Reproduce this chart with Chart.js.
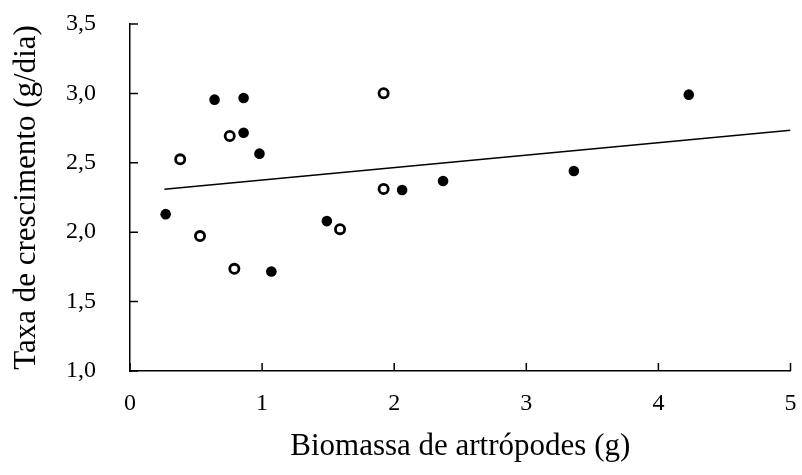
<!DOCTYPE html>
<html>
<head>
<meta charset="utf-8">
<script src="https://cdn.jsdelivr.net/npm/chart.js@4.4.1/dist/chart.umd.min.js"></script>
<style>
html,body{margin:0;padding:0;background:#fff;}
#wrap{width:802px;height:475px;}
</style>
</head>
<body>
<div id="wrap"><canvas id="c" width="802" height="475"></canvas></div>
<script>
const filledX = [0.27, 0.64, 0.86, 0.86, 0.98, 1.07, 1.49, 2.06, 2.37, 3.36, 4.23];
const filledY = [2.13, 2.955, 2.967, 2.717, 2.566, 1.717, 2.08, 2.304, 2.369, 2.441, 2.991];
const openX = [0.38, 0.53, 0.755, 0.79, 1.59, 1.92, 1.92];
const openY = [2.525, 1.972, 2.693, 1.736, 2.022, 3.001, 2.311];
const trendX = [0.26, 5];
const trendY = [2.31, 2.734];
const xTicks = [0, 1, 2, 3, 4, 5];
const yTicks = [1.0, 1.5, 2.0, 2.5, 3.0, 3.5];
const xTitle = 'Biomassa de artrópodes (g)';
const yTitle = 'Taxa de crescimento (g/dia)';

const pts = (xs, ys) => xs.map((x, i) => ({x: x, y: ys[i]}));
const FONT = "'Liberation Serif', 'Times New Roman', serif";

const innerTicks = {
  id: 'innerTicks',
  afterDraw(chart) {
    const {ctx, chartArea} = chart;
    const xs = chart.scales.x, ys = chart.scales.y;
    ctx.save();
    ctx.strokeStyle = '#000';
    ctx.lineWidth = 1.5;
    ctx.beginPath();
    xTicks.forEach(v => {
      const p = xs.getPixelForValue(v);
      ctx.moveTo(p, chartArea.bottom);
      ctx.lineTo(p, chartArea.bottom - 8);
    });
    yTicks.forEach(v => {
      const p = ys.getPixelForValue(v);
      ctx.moveTo(chartArea.left, p);
      ctx.lineTo(chartArea.left + 8, p);
    });
    ctx.stroke();
    ctx.restore();
  }
};

new Chart(document.getElementById('c'), {
  type: 'scatter',
  data: {
    datasets: [
      {
        type: 'line',
        data: pts(trendX, trendY),
        borderColor: '#000',
        borderWidth: 1.5,
        pointRadius: 0,
        fill: false,
        showLine: true,
        order: 3
      },
      {
        data: pts(filledX, filledY),
        backgroundColor: '#000',
        borderColor: '#000',
        borderWidth: 0,
        pointRadius: 5.3,
        order: 1
      },
      {
        data: pts(openX, openY),
        backgroundColor: '#fff',
        borderColor: '#000',
        borderWidth: 2.8,
        pointRadius: 4.6,
        order: 2
      }
    ]
  },
  options: {
    responsive: false,
    animation: false,
    devicePixelRatio: 1,
    layout: {padding: 0},
    plugins: {legend: {display: false}, tooltip: {enabled: false}},
    scales: {
      x: {
        type: 'linear', min: 0, max: 5,
        afterFit(s) { s.height = 104; s.paddingLeft = 0; s.paddingRight = 11.5; },
        afterBuildTicks(s) { s.ticks = xTicks.map(v => ({value: v})); },
        grid: {display: false, drawTicks: false},
        border: {display: true, color: '#000', width: 1.5},
        ticks: {color: '#000', font: {family: FONT, size: 24}, padding: 18, maxRotation: 0},
        title: {display: true, text: xTitle, color: '#000', font: {family: FONT, size: 31}, padding: {top: 0, bottom: 10}}
      },
      y: {
        type: 'linear', min: 1.0, max: 3.5,
        afterFit(s) { s.width = 130; s.paddingTop = 24; s.paddingBottom = 0; },
        afterBuildTicks(s) { s.ticks = yTicks.map(v => ({value: v})); },
        grid: {display: false, drawTicks: false},
        border: {display: true, color: '#000', width: 1.5},
        ticks: {color: '#000', font: {family: FONT, size: 24}, padding: 34,
          callback: v => v.toFixed(1).replace('.', ',')},
        title: {display: true, text: yTitle, color: '#000', font: {family: FONT, size: 31}, padding: {top: 8, bottom: 0}}
      }
    }
  },
  plugins: [innerTicks]
});
</script>
</body>
</html>
